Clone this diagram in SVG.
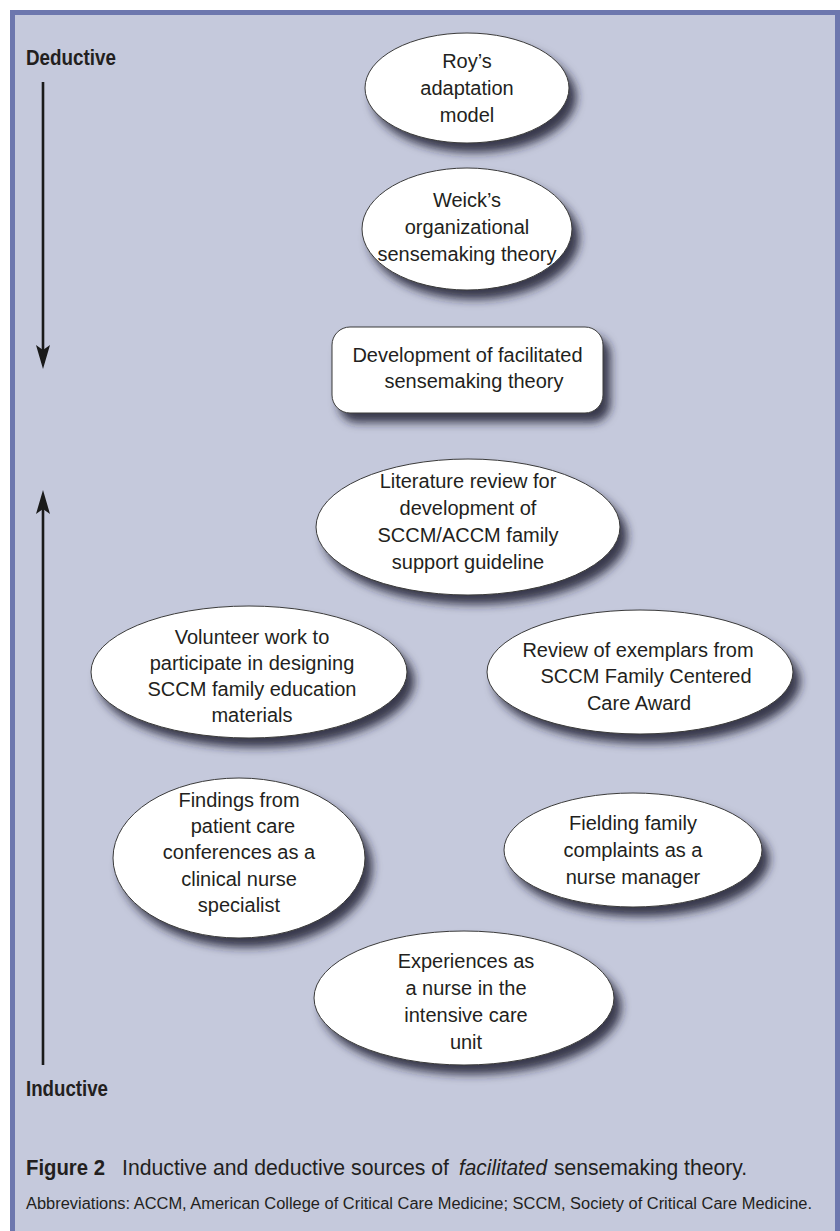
<svg xmlns="http://www.w3.org/2000/svg" width="840" height="1231" viewBox="0 0 840 1231">
  <style>
    .node { fill: #ffffff; stroke: #3a3a3a; stroke-width: 1; filter: url(#shadow); }
    .t { font-family: "Liberation Sans", Arial, sans-serif; font-size: 20px; fill: #231f20; text-anchor: middle; }
    .lab { font-family: "Liberation Sans", Arial, sans-serif; font-size: 22px; font-weight: bold; fill: #231f20; }
    .cap { font-family: "Liberation Sans", Arial, sans-serif; font-size: 22px; fill: #231f20; }
    .abbr { font-family: "Liberation Sans", Arial, sans-serif; font-size: 16px; fill: #231f20; }
    .axis { stroke: #1a1a1a; stroke-width: 2.6; fill: none; }
  </style>
  <defs>
    <filter id="shadow" x="-20%" y="-20%" width="150%" height="160%">
      <feDropShadow dx="7" dy="9" stdDeviation="5" flood-color="#1c2033" flood-opacity="0.85"/>
    </filter>
  </defs>

  <rect x="0" y="0" width="840" height="1231" fill="#ffffff"/>
  <rect id="frame" x="12.5" y="12.5" width="825" height="1240" fill="#c5c9dc" stroke="#6d77ae" stroke-width="5"/>

  <g id="connectors">
    <line class="axis" x1="43" y1="82" x2="43" y2="352"/>
    <path d="M43,369 L36,345 L43,350 L50,345 Z" fill="#1a1a1a"/>
    <line class="axis" x1="43" y1="1065" x2="43" y2="508"/>
    <path d="M43,490 L36,514 L43,509 L50,514 Z" fill="#1a1a1a"/>
  </g>

  <g id="label-deductive">
    <text class="lab" x="26" y="65" textLength="90" lengthAdjust="spacingAndGlyphs">Deductive</text>
  </g>
  <g id="label-inductive">
    <text class="lab" x="26" y="1096" textLength="82" lengthAdjust="spacingAndGlyphs">Inductive</text>
  </g>

  <g id="node-roy">
    <ellipse class="node" cx="467" cy="88" rx="102" ry="55"/>
    <text class="t" x="467" y="68">Roy’s</text>
    <text class="t" x="467" y="95">adaptation</text>
    <text class="t" x="467" y="122">model</text>
  </g>

  <g id="node-weick">
    <ellipse class="node" cx="467" cy="229" rx="105" ry="61"/>
    <text class="t" x="467" y="207">Weick’s</text>
    <text class="t" x="467" y="234">organizational</text>
    <text class="t" x="467" y="261">sensemaking theory</text>
  </g>

  <g id="node-development">
    <rect class="node" x="332" y="327" width="271" height="86" rx="18" ry="18"/>
    <text class="t" x="467.5" y="362">Development of facilitated</text>
    <text class="t" x="474" y="388">sensemaking theory</text>
  </g>

  <g id="node-literature">
    <ellipse class="node" cx="468" cy="527" rx="152" ry="68"/>
    <text class="t" x="468" y="488">Literature review for</text>
    <text class="t" x="468" y="515">development of</text>
    <text class="t" x="468" y="542">SCCM/ACCM family</text>
    <text class="t" x="468" y="569">support guideline</text>
  </g>

  <g id="node-volunteer">
    <ellipse class="node" cx="249" cy="672" rx="158" ry="66"/>
    <text class="t" x="252" y="644">Volunteer work to</text>
    <text class="t" x="252" y="670">participate in designing</text>
    <text class="t" x="252" y="696">SCCM family education</text>
    <text class="t" x="252" y="722">materials</text>
  </g>

  <g id="node-review">
    <ellipse class="node" cx="640" cy="672" rx="153" ry="62"/>
    <text class="t" x="638" y="657">Review of exemplars from</text>
    <text class="t" x="646" y="683">SCCM Family Centered</text>
    <text class="t" x="639" y="710">Care Award</text>
  </g>

  <g id="node-findings">
    <ellipse class="node" cx="239" cy="858" rx="126" ry="80"/>
    <text class="t" x="239" y="807">Findings from</text>
    <text class="t" x="243" y="833">patient care</text>
    <text class="t" x="239" y="859">conferences as a</text>
    <text class="t" x="239" y="886">clinical nurse</text>
    <text class="t" x="239" y="912">specialist</text>
  </g>

  <g id="node-fielding">
    <ellipse class="node" cx="633" cy="850" rx="129" ry="57"/>
    <text class="t" x="633" y="830">Fielding family</text>
    <text class="t" x="633" y="857">complaints as a</text>
    <text class="t" x="633" y="884">nurse manager</text>
  </g>

  <g id="node-experiences">
    <ellipse class="node" cx="464" cy="998" rx="150" ry="67"/>
    <text class="t" x="466" y="968">Experiences as</text>
    <text class="t" x="466" y="995">a nurse in the</text>
    <text class="t" x="466" y="1022">intensive care</text>
    <text class="t" x="466" y="1049">unit</text>
  </g>

  <g id="caption">
    <text class="lab" x="26" y="1175" textLength="79" lengthAdjust="spacingAndGlyphs">Figure 2</text>
    <text class="cap" x="122" y="1175" textLength="327" lengthAdjust="spacingAndGlyphs">Inductive and deductive sources of</text>
    <text class="cap" x="459" y="1175" font-style="italic" textLength="88" lengthAdjust="spacingAndGlyphs">facilitated</text>
    <text class="cap" x="554" y="1175" textLength="193" lengthAdjust="spacingAndGlyphs">sensemaking theory.</text>
    <text class="abbr" x="26" y="1209" textLength="786" lengthAdjust="spacingAndGlyphs">Abbreviations: ACCM, American College of Critical Care Medicine; SCCM, Society of Critical Care Medicine.</text>
  </g>
</svg>
